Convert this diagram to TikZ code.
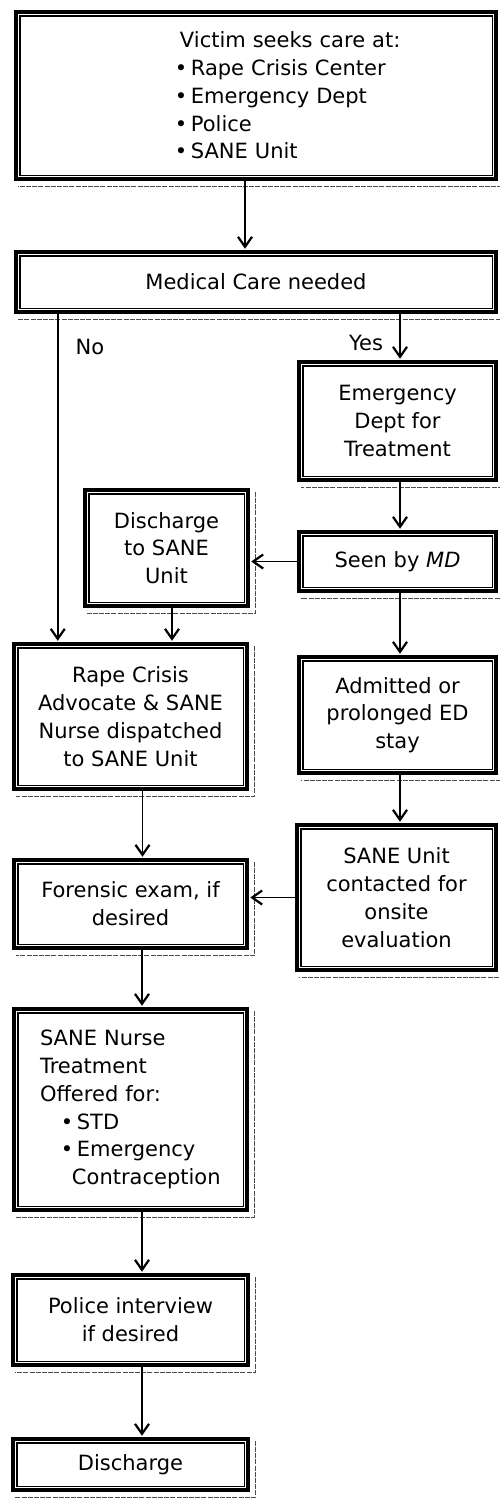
\documentclass[tikz,border=0pt]{standalone}
\usepackage{fontspec}
\setmainfont{DejaVu Sans}
\usetikzlibrary{arrows.meta,calc}

\tikzset{
  x=1pt, y=-1pt,
  flowbox/.style={draw, line width=4.5pt, inner sep=0pt, align=center,
    font=\fontsize{21}{27.8}\selectfont},
  innerline/.style={line width=1.5pt},
  shadowline/.style={line width=0.7pt, black!70, dash pattern=on 5pt off 1.2pt},
  arr/.style={line width=1.9pt, shorten >=1pt,
    -{Straight Barb[length=10pt,width=14pt,line width=2.2pt]}},
  lbl/.style={font=\fontsize{21}{26}\selectfont, inner sep=0pt}
}

\begin{document}
\begin{tikzpicture}
\useasboundingbox (0,0) rectangle (500,1499);

% ---- boxes ----
\node[flowbox, minimum width=480, minimum height=167, text width=480, align=left]
  (victim) at (256,95.5)
  {\hspace*{164pt}Victim seeks care at:\\
   \hspace*{159pt}•\,Rape Crisis Center\\
   \hspace*{159pt}•\,Emergency Dept\\
   \hspace*{159pt}•\,Police\\
   \hspace*{159pt}•\,SANE Unit};

\node[flowbox, minimum width=480, minimum height=60] (medical) at (256,282)
  {Medical Care needed};

\node[flowbox, minimum width=197, minimum height=118] (ed) at (397.5,421)
  {Emergency\\Dept for\\Treatment};

\node[flowbox, minimum width=197, minimum height=59] (md) at (397.5,561.5)
  {Seen by \textit{MD}};

\node[flowbox, minimum width=163, minimum height=116] (dischsane) at (166.5,548)
  {Discharge\\to SANE\\Unit};

\node[flowbox, minimum width=233, minimum height=145] (rc) at (130.5,716.5)
  {Rape Crisis\\Advocate \& SANE\\Nurse dispatched\\to SANE Unit};

\node[flowbox, minimum width=197, minimum height=116] (adm) at (397.5,715)
  {Admitted or\\prolonged ED\\stay};

\node[flowbox, minimum width=199, minimum height=145] (sane) at (396.5,897.5)
  {SANE Unit\\contacted for\\onsite\\evaluation};

\node[flowbox, minimum width=233, minimum height=88] (foren) at (130.5,904)
  {Forensic exam, if\\desired};

\node[flowbox, minimum width=233, minimum height=201, text width=233, align=left]
  (nurse) at (130.5,1109.5)
  {\hspace*{26pt}SANE Nurse\\
   \hspace*{26pt}Treatment\\
   \hspace*{26pt}Offered for:\\
   \hspace*{47pt}•\,STD\\
   \hspace*{47pt}•\,Emergency\\
   \hspace*{58pt}Contraception};

\node[flowbox, minimum width=235, minimum height=90] (police) at (130.5,1320)
  {Police interview\\if desired};

\node[flowbox, minimum width=235, minimum height=51] (discharge) at (130.5,1464.5)
  {Discharge};

% ---- inner frame and offset rule on every box ----
\foreach \n in {victim,medical,ed,md,dischsane,rc,adm,sane,foren,nurse,police,discharge}{
  \draw[innerline] ([shift={(6pt,-6pt)}]\n.north west) rectangle ([shift={(-6pt,6pt)}]\n.south east);
  \draw[shadowline] ([shift={(5pt,-4pt)}]\n.north east) -- ([shift={(5pt,-5pt)}]\n.south east)
                    -- ([shift={(4pt,-5pt)}]\n.south west);
}

% ---- connectors ----
\draw[arr] ([xshift=-11pt]victim.south) -- ([xshift=-11pt]medical.north);
\draw[arr] ([xshift=44pt]medical.south west) -- ([xshift=44pt]medical.south west |- rc.north);
\draw[arr] ([xshift=2.5pt]ed.north |- medical.south) -- ([xshift=2.5pt]ed.north);
\draw[arr] ([xshift=2.5pt]ed.south) -- ([xshift=2.5pt]md.north);
\draw[arr] (md.west) -- (md.west -| dischsane.east);
\draw[arr] ([xshift=5.5pt]dischsane.south) -- ([xshift=5.5pt]dischsane.south |- rc.north);
\draw[arr] ([xshift=2.5pt]md.south) -- ([xshift=2.5pt]adm.north);
\draw[arr] ([xshift=2.5pt]adm.south) -- ([xshift=2.5pt]adm.south |- sane.north);
\draw[arr] (sane.west) -- (sane.west -| foren.east);
\draw[arr] ([xshift=12pt]rc.south) -- ([xshift=12pt]foren.north);
\draw[arr] ([xshift=11.5pt]foren.south) -- ([xshift=11.5pt]nurse.north);
\draw[arr] ([xshift=11.5pt]nurse.south) -- ([xshift=11.5pt]police.north);
\draw[arr] ([xshift=11.5pt]police.south) -- ([xshift=11.5pt]discharge.north);

% ---- branch labels ----
\node[lbl] (no) at (90,347) {No};
\node[lbl] (yes) at (366,343) {Yes};
\end{tikzpicture}
\end{document}
